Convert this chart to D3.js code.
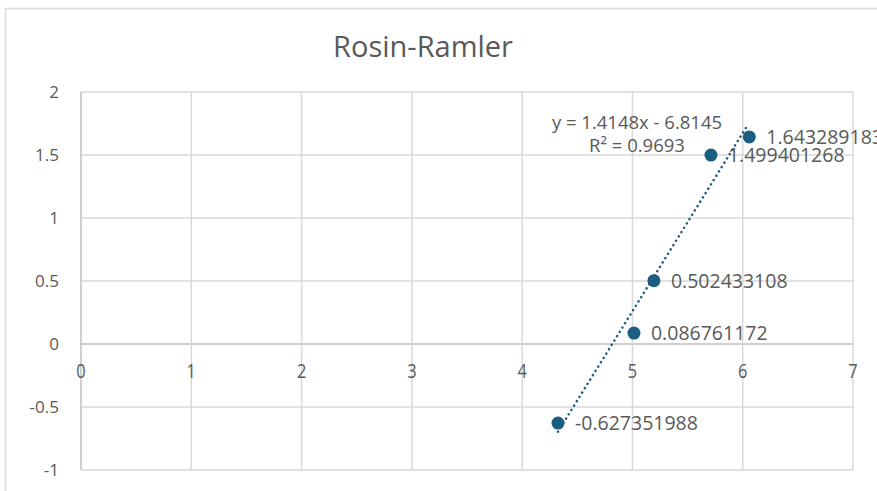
<!DOCTYPE html>
<html>
<head>
<meta charset="utf-8">
<script src="https://cdn.jsdelivr.net/npm/d3@7"></script>
<style>
  body { margin: 0; background: #fff; }
  text { font-family: "Open Sans", "Noto Sans", sans-serif; fill: #595959; }
</style>
</head>
<body>
<div id="container"></div>
<script>
// data
const xValues = [4.325, 5.014, 5.195, 5.712, 6.06];
const yValues = [-0.627351988, 0.086761172, 0.502433108, 1.499401268, 1.643289183];
const pointLabels = ["-0.627351988", "0.086761172", "0.502433108", "1.499401268", "1.643289183"];
const trend = [1.4148, -6.8145]; // slope, intercept
const trendText = ["y = 1.4148x - 6.8145", "R² = 0.9693"];
const xTicks = [0, 1, 2, 3, 4, 5, 6, 7];
const yTicks = [-1, -0.5, 0, 0.5, 1, 1.5, 2];
const title = "Rosin-Ramler";

const W = 877, H = 491;
const margin = {top: 92, right: 24, bottom: 21, left: 81},
    width = W - margin.left - margin.right,
    height = H - margin.top - margin.bottom;

const root = d3.select("#container")
  .append("svg")
    .attr("width", W)
    .attr("height", H);

// chart outer border
root.append("rect")
  .attr("x", 5.5).attr("y", 8.5)
  .attr("width", W).attr("height", H)
  .attr("fill", "none")
  .attr("stroke", "#d9d9d9")
  .attr("stroke-width", 1.5);

root.append("text")
  .attr("x", 423).attr("y", 57)
  .attr("text-anchor", "middle")
  .style("font-size", "29px")
  .text(title);

const svg = root.append("g")
  .attr("transform", `translate(${margin.left},${margin.top})`);

const x = d3.scaleLinear().domain([0, 7]).range([0, width]);
const y = d3.scaleLinear().domain([-1, 2]).range([height, 0]);

// gridlines
svg.append("g")
  .selectAll("line")
  .data(yTicks)
  .join("line")
    .attr("x1", 0).attr("x2", width)
    .attr("y1", d => y(d)).attr("y2", d => y(d))
    .attr("stroke", d => d === 0 ? "#bfbfbf" : "#d9d9d9")
    .attr("stroke-width", 1.5);

svg.append("g")
  .selectAll("line")
  .data(xTicks)
  .join("line")
    .attr("x1", d => x(d)).attr("x2", d => x(d))
    .attr("y1", 0).attr("y2", height)
    .attr("stroke", d => d === 0 ? "#bfbfbf" : "#d9d9d9")
    .attr("stroke-width", 1.5);

// y axis labels
svg.append("g")
  .selectAll("text")
  .data(yTicks)
  .join("text")
    .attr("x", -22)
    .attr("y", d => y(d))
    .attr("dy", "0.35em")
    .attr("text-anchor", "end")
    .style("font-size", "17px")
    .text(d => d);

// x axis labels, sitting under the zero line (tall and narrow in the original)
svg.append("g")
  .selectAll("text")
  .data(xTicks)
  .join("text")
    .attr("transform", d => `translate(${x(d)},${y(0) + 34}) scale(0.82,1)`)
    .attr("text-anchor", "middle")
    .style("font-size", "20px")
    .text(d => d);

// trendline
const xMin = d3.min(xValues), xMax = d3.max(xValues);
svg.append("line")
  .attr("x1", x(xMin)).attr("y1", y(trend[0] * xMin + trend[1]))
  .attr("x2", x(xMax - 0.02)).attr("y2", y(trend[0] * (xMax - 0.02) + trend[1]))
  .attr("stroke", "#1b5e80")
  .attr("stroke-width", 2.5)
  .attr("stroke-dasharray", "0.1 5")
  .attr("stroke-linecap", "round");

const pts = xValues.map((d, i) => ({x: d, y: yValues[i], label: pointLabels[i]}));

svg.append("g")
  .selectAll("circle")
  .data(pts)
  .join("circle")
    .attr("cx", d => x(d.x))
    .attr("cy", d => y(d.y))
    .attr("r", 6.5)
    .attr("fill", "#1b5e80");

svg.append("g")
  .selectAll("text")
  .data(pts)
  .join("text")
    .attr("x", d => x(d.x) + 17)
    .attr("y", d => y(d.y))
    .attr("dy", "0.35em")
    .style("font-size", "19.5px")
    .text(d => d.label);

// trendline equation
svg.append("g")
  .selectAll("text")
  .data(trendText)
  .join("text")
    .attr("x", 637 - margin.left)
    .attr("y", (d, i) => 129 - margin.top + i * 23)
    .attr("text-anchor", "middle")
    .style("font-size", "18.5px")
    .text(d => d);
</script>
</body>
</html>
